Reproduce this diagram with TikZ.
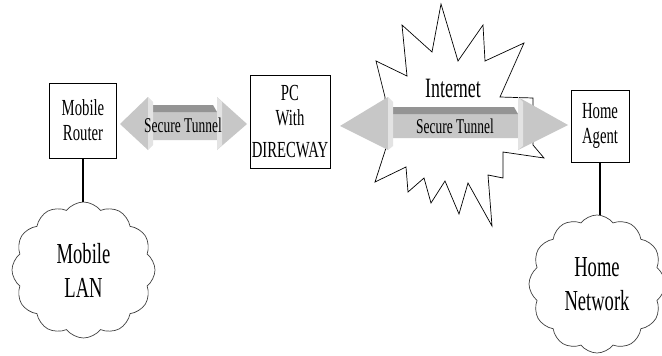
\documentclass[tikz,border=0pt]{standalone}
\usepackage{fontspec}
\setmainfont{Liberation Serif}[FakeStretch=0.64]
\usetikzlibrary{shapes.symbols}

\tikzset{
  box/.style={draw, fill=white, line width=0.8pt, inner sep=0pt, align=center,
    font=\fontsize{23}{25}\selectfont},
  lan/.style={cloud, cloud puffs=12, cloud puff arc=105, aspect=1.05,
    draw=black!75, line width=0.7pt, fill=white, inner sep=0pt, align=center,
    font=\fontsize{29}{34}\selectfont},
  link/.style={line width=1.6pt},
  tunnelbody/.style={fill=black!22},
  tunneltop/.style={fill=black!42},
  tunnellight/.style={fill=black!11},
  tunneltext/.style={font=\fontsize{21}{22}\selectfont},
}

\begin{document}
\begin{tikzpicture}[x=1pt,y=-1pt]
  \useasboundingbox (0,0) rectangle (662,356);
  % boxes
  \node[box,minimum width=67pt,minimum height=75pt] (router) at (83,120.5) {Mobile\\Router};
  \node[box,minimum width=80pt,minimum height=93pt] (pc) at (290,121.5) {PC\\With\\[7pt]DIRECWAY};
  \node[box,minimum width=58pt,minimum height=72pt] (agent) at (600,126) {Home\\Agent};
  % clouds
  \node[lan,minimum width=143pt,minimum height=136pt] (mlan) at (83.5,270) {Mobile\\LAN};
  \node[lan,minimum width=136pt,minimum height=138pt] (hnet) at (597,284) {Home\\Network};
  \draw[link] (router.south) -- (router.south |- mlan.north);
  \draw[link] (agent.south) -- (agent.south |- hnet.north);
  % internet burst
  \draw[fill=white,line width=0.7pt]
    (385,97) -- (376,61) -- (407,76) -- (402,25) -- (432,52) -- (441,4)
    -- (458,61) -- (483,25) -- (485,61) -- (524,43) -- (500,97) -- (533,98)
    -- (533,145) -- (544,158) -- (503,152) -- (503,178) -- (488,175)
    -- (492,226) -- (468,183) -- (459,214) -- (445,181) -- (431,203)
    -- (424,178) -- (408,192) -- (406,167) -- (375,182) -- (386,148)
    -- cycle;
  \node[font=\fontsize{28}{30}\selectfont] (inet) at (453,88) {Internet};
  % tunnel between router and pc
  \fill[tunnelbody]
    (120,124) -- (148,97) -- (148,112) -- (217,112) -- (217,97) -- (247,124)
    -- (217,150) -- (217,140) -- (148,140) -- (148,150) -- cycle;
  \fill[tunneltop] (148,112) -- (152,105) -- (213,105) -- (217,112) -- cycle;
  \fill[tunnellight] (148,97) -- (153,102) -- (153,145) -- (148,150) -- cycle;
  \fill[tunnellight] (217,97) -- (222,102) -- (222,145) -- (217,150) -- cycle;
  \node[tunneltext] (tun1) at (183,125) {Secure Tunnel};
  % tunnel across the internet
  \fill[tunnelbody]
    (340,126) -- (388,97) -- (388,114) -- (518,114) -- (518,97) -- (568,125)
    -- (518,150) -- (518,138) -- (388,138) -- (388,150) -- cycle;
  \fill[tunneltop] (388,114) -- (392,107) -- (514,107) -- (518,114) -- cycle;
  \fill[tunnellight] (388,97) -- (393,102) -- (393,146) -- (388,150) -- cycle;
  \fill[tunnellight] (518,97) -- (523,102) -- (523,146) -- (518,150) -- cycle;
  \node[tunneltext] (tun2) at (455,126) {Secure Tunnel};
\end{tikzpicture}
\end{document}
